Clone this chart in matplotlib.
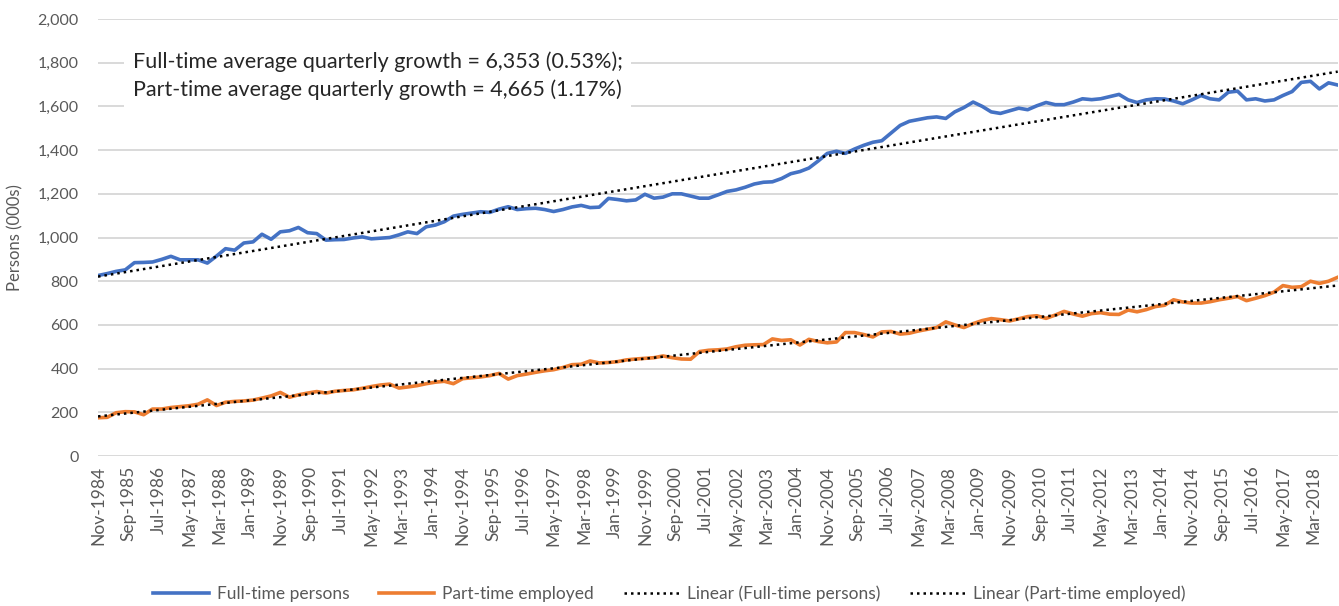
import numpy as np
import pandas as pd
import matplotlib
matplotlib.use("Agg")
from matplotlib import pyplot as plt
import matplotlib.dates as mdates
from matplotlib.ticker import FuncFormatter

plt.rcParams['font.family'] = ['Lato', 'DejaVu Sans']

# quarterly data, Nov-1984 .. Nov-2018 (persons, 000s)
quarters = pd.date_range('1984-11-01', periods=137, freq='3MS')

full_time = [
    826, 835, 845, 852, 885, 886, 888, 900, 914, 898,
    898, 898, 883, 915, 949, 942, 975, 980, 1015, 992,
    1026, 1031, 1046, 1022, 1018, 988, 990, 991, 998, 1003,
    994, 997, 1000, 1012, 1026, 1018, 1049, 1057, 1072, 1098,
    1106, 1112, 1118, 1115, 1130, 1141, 1128, 1132, 1134, 1128,
    1119, 1128, 1140, 1147, 1137, 1139, 1179, 1174, 1168, 1172,
    1198, 1180, 1185, 1200, 1200, 1190, 1180, 1180, 1195, 1211,
    1218, 1230, 1245, 1253, 1255, 1270, 1292, 1302, 1318, 1350,
    1385, 1395, 1385, 1405, 1422, 1436, 1443, 1478, 1513, 1532,
    1540, 1548, 1552, 1545, 1575, 1595, 1620, 1600, 1575, 1568,
    1580, 1592, 1585, 1603, 1618, 1608, 1608, 1620, 1635, 1631,
    1635, 1645, 1655, 1630, 1618, 1630, 1635, 1634, 1625, 1612,
    1630, 1650, 1635, 1630, 1665, 1670, 1630, 1635, 1625, 1630,
    1650, 1668, 1710, 1715, 1680, 1708, 1698,
]

part_time = [
    175, 177, 198, 203, 202, 189, 215, 215, 222, 226,
    230, 237, 257, 231, 246, 250, 252, 256, 265, 275,
    291, 269, 280, 288, 295, 288, 296, 300, 303, 310,
    318, 325, 329, 311, 316, 322, 331, 338, 342, 331,
    354, 358, 362, 368, 378, 352, 368, 375, 383, 390,
    395, 405, 418, 420, 435, 426, 428, 432, 440, 444,
    447, 450, 458, 450, 444, 443, 478, 484, 486, 490,
    500, 507, 509, 510, 536, 529, 532, 508, 534, 524,
    518, 522, 565, 565, 556, 545, 568, 570, 558, 562,
    572, 580, 588, 614, 600, 588, 606, 620, 629, 624,
    618, 628, 638, 642, 630, 645, 662, 650, 640, 652,
    656, 649, 648, 668, 660, 670, 684, 690, 715, 705,
    700, 700, 706, 715, 722, 730, 711, 722, 734, 750,
    780, 772, 775, 800, 790, 800, 818,
]

series_names = ['Full-time persons', 'Part-time employed']
trend_names = ['Linear (Full-time persons)', 'Linear (Part-time employed)']
colors = ['#4472C4', '#ED7D31']

# x-axis labels every 10 months
tick_dates = pd.date_range('1984-11-01', '2018-03-01', freq='10MS')

note = ("Full-time average quarterly growth = 6,353 (0.53%);\n"
        "Part-time average quarterly growth = 4,665 (1.17%)")

fig = plt.figure(figsize=(13.39, 6.06), dpi=100)
ax = fig.add_axes([0.0732, 0.2475, 0.926, 0.7211])

x = mdates.date2num(quarters.to_pydatetime())
idx = np.arange(len(x))

lines = []
for vals, name, c in zip([full_time, part_time], series_names, colors):
    l, = ax.plot(x, vals, color=c, lw=2.6, label=name, solid_joinstyle='round', zorder=3)
    lines.append(l)

trends = []
for vals, name in zip([full_time, part_time], trend_names):
    k, b = np.polyfit(idx, vals, 1)
    t, = ax.plot(x, k * idx + b, color='black', lw=1.8, ls=(0, (1, 1.6)),
                 label=name, zorder=4)
    trends.append(t)

ax.set_ylim(0, 2000)
ax.set_yticks(np.arange(0, 2001, 200))
ax.yaxis.set_major_formatter(FuncFormatter(lambda v, p: f'{v:,.0f}'))
ax.set_xlim(x[0], x[-1] + 2)
ax.set_xticks(mdates.date2num(tick_dates.to_pydatetime()))
ax.set_xticklabels([d.strftime('%b-%Y') for d in tick_dates], rotation=90)

ax.grid(axis='y', color='#d9d9d9', lw=1.4)
ax.set_axisbelow(True)
for s in ax.spines.values():
    s.set_visible(False)
ax.tick_params(length=0, colors='#595959', labelsize=11.5)
ax.tick_params(axis='x', labelsize=12.5, pad=7)
ax.tick_params(axis='y', pad=14)
ax.set_ylabel('Persons (000s)', color='#595959', fontsize=12, labelpad=10)

ax.text(0.028, 0.87, note, transform=ax.transAxes, fontsize=15.5, color='#262626',
        va='center', ha='left', linespacing=1.45, zorder=5,
        bbox=dict(facecolor='white', edgecolor='none', pad=6))

fig.legend(lines + trends, series_names + trend_names, loc='lower center',
           bbox_to_anchor=(0.5, -0.02), ncol=4, frameon=False, fontsize=12.5,
           handlelength=3.2, handletextpad=0.45, columnspacing=1.7,
           labelcolor='#595959')

fig.savefig('out.png', dpi=100)
